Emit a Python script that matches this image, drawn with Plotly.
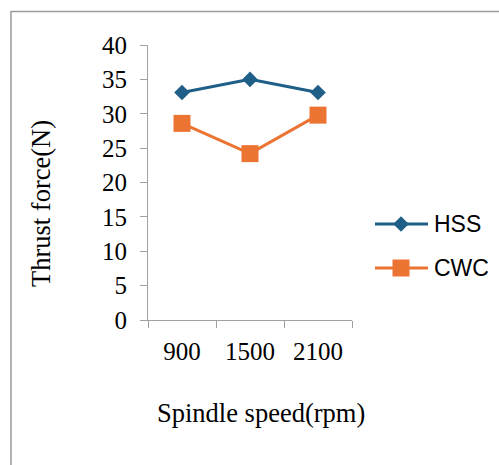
import plotly.graph_objects as go

# Thrust force measured at each spindle speed for two drill materials
speeds = ["900", "1500", "2100"]
hss_force = [33.1, 35.0, 33.1]
cwc_force = [28.6, 24.2, 29.8]
y_ticks = [0, 5, 10, 15, 20, 25, 30, 35, 40]

HSS_COLOR = "#1F5E86"
CWC_COLOR = "#EC7432"
AXIS_GREY = "#A0A0A0"
SERIF = "Liberation Serif"
SANS = "Liberation Sans"

W, H = 499, 465
# plot area in pixels
PX0, PX1, PY0, PY1 = 148, 352, 45, 320

fig = go.Figure()
fig.add_trace(go.Scatter(
    x=speeds, y=hss_force, mode="lines+markers", name="HSS",
    line=dict(color=HSS_COLOR, width=3),
    marker=dict(symbol="diamond", size=12, color=HSS_COLOR),
    showlegend=False,
))
fig.add_trace(go.Scatter(
    x=speeds, y=cwc_force, mode="lines+markers", name="CWC",
    line=dict(color=CWC_COLOR, width=3),
    marker=dict(symbol="square", size=17, color=CWC_COLOR),
    showlegend=False,
))

fig.update_layout(
    template="none",
    width=W, height=H,
    margin=dict(l=0, r=0, t=0, b=0, autoexpand=False),
    paper_bgcolor="white", plot_bgcolor="white",
    xaxis=dict(
        domain=[PX0 / W, PX1 / W], automargin=False,
        type="category", range=[-0.5, 2.5],
        tickson="boundaries", ticks="outside", ticklen=7, tickcolor=AXIS_GREY,
        showline=True, linecolor=AXIS_GREY, linewidth=1,
        showgrid=False, zeroline=False,
        tickfont=dict(family=SERIF, size=25, color="black"),
        ticklabelstandoff=9,
    ),
    yaxis=dict(
        domain=[1 - PY1 / H, 1 - PY0 / H], automargin=False,
        range=[0, 40], tickvals=y_ticks,
        ticks="outside", ticklen=7, tickcolor=AXIS_GREY,
        showline=True, linecolor=AXIS_GREY, linewidth=1,
        showgrid=False, zeroline=False,
        tickfont=dict(family=SERIF, size=25, color="black"),
        ticklabelstandoff=8,
    ),
)

def px(x):
    return x / W

def py(y):
    return 1 - y / H

# axis titles
fig.add_annotation(x=px(261), y=py(413), xref="paper", yref="paper",
                   text="Spindle speed(rpm)", showarrow=False,
                   font=dict(family=SERIF, size=26.5, color="black"),
                   xanchor="center", yanchor="middle")
fig.add_annotation(x=px(41), y=py(204), xref="paper", yref="paper",
                   text="Thrust force(N)", showarrow=False, textangle=-90,
                   font=dict(family=SERIF, size=26.5, color="black"),
                   xanchor="center", yanchor="middle")

# chart frame
fig.add_shape(type="rect", xref="paper", yref="paper",
              x0=px(11), y0=-0.1, x1=1.1, y1=py(11.5),
              line=dict(color="#9A9A9A", width=1.5), fillcolor="rgba(0,0,0,0)")

# legend: line, symbol and label per series
legend_rows = [("HSS", HSS_COLOR, "diamond", 224), ("CWC", CWC_COLOR, "square", 268)]
for label, color, sym, ly in legend_rows:
    fig.add_shape(type="line", xref="paper", yref="paper",
                  x0=px(375), x1=px(428), y0=py(ly), y1=py(ly),
                  line=dict(color=color, width=3))
    if sym == "diamond":
        cx, r = 401, 7.8
        path = (f"M {px(cx - r)} {py(ly)} L {px(cx)} {py(ly - r)} "
                f"L {px(cx + r)} {py(ly)} L {px(cx)} {py(ly + r)} Z")
    else:
        cx, r = 401, 8.5
        path = (f"M {px(cx - r)} {py(ly - r)} L {px(cx + r)} {py(ly - r)} "
                f"L {px(cx + r)} {py(ly + r)} L {px(cx - r)} {py(ly + r)} Z")
    fig.add_shape(type="path", xref="paper", yref="paper", path=path,
                  fillcolor=color, line=dict(color=color, width=0))
    fig.add_annotation(x=px(432), y=py(ly), xref="paper", yref="paper",
                       text=label, showarrow=False, xanchor="left", yanchor="middle",
                       font=dict(family=SANS, size=23, color="black"))

fig.write_html("out.html")
